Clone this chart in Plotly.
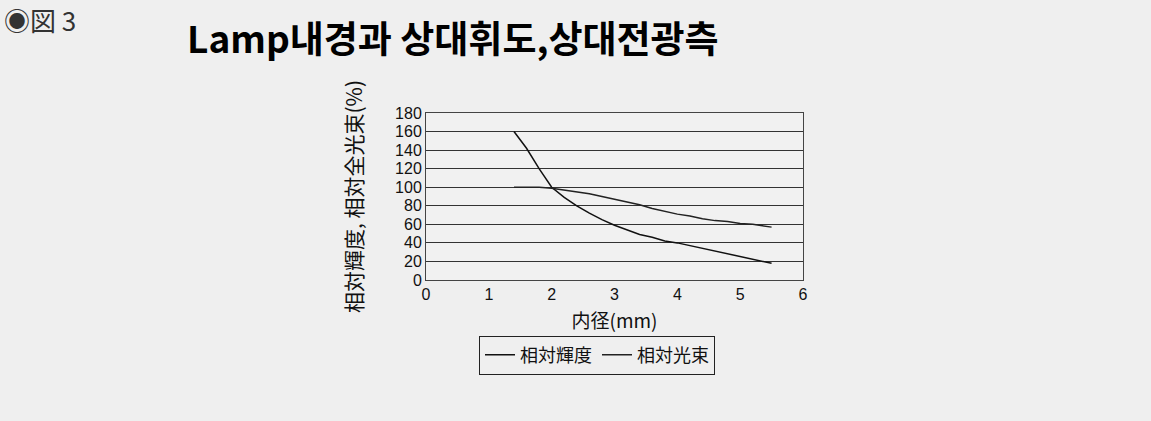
import plotly.graph_objects as go

# Data
diameter = [1.4, 1.6, 1.8, 2.0, 2.2, 2.4, 2.6, 2.8, 3.0, 3.2, 3.4, 3.6, 3.8, 4.0, 4.2, 4.4, 4.6, 4.8, 5.0, 5.2, 5.5]
rel_luminance = [160, 142, 120, 100, 89, 80, 72, 65, 59, 54, 49, 46, 42, 40, 37, 34, 31, 28, 25, 22, 18]
rel_flux = [100, 100, 100, 99, 97, 95, 93, 90, 87, 84, 81, 77, 74, 71, 69, 66, 64, 63, 61, 60, 57]

series_names = ["相対輝度", "相対光束"]
x_ticks = [0, 1, 2, 3, 4, 5, 6]
y_ticks = [0, 20, 40, 60, 80, 100, 120, 140, 160, 180]

W, H = 1151, 421
L, R, T, B = 426, 348, 113, 141
pw, ph = W - L - R, H - T - B

def px(x):
    return (x - L) / pw

def py(y):
    return (H - B - y) / ph

JP = "Noto Sans CJK JP"

fig = go.Figure()
fig.add_trace(go.Scatter(x=diameter, y=rel_luminance, mode="lines", name=series_names[0],
                         line=dict(color="#111111", width=1.5)))
fig.add_trace(go.Scatter(x=diameter, y=rel_flux, mode="lines", name=series_names[1],
                         line=dict(color="#222222", width=1.5)))

fig.update_layout(
    width=W, height=H,
    margin=dict(l=L, r=R, t=T, b=B),
    paper_bgcolor="#efefef",
    plot_bgcolor="#f1f1f1",
    font=dict(family=JP, color="#111111"),
    showlegend=True,
    legend=dict(orientation="h", x=px(597), y=py(355), xanchor="center", yanchor="middle",
                bordercolor="#222222", borderwidth=1, bgcolor="rgba(0,0,0,0)",
                font=dict(size=18, family=JP), itemwidth=30, tracegroupgap=0),
    xaxis=dict(range=[0, 6], tickvals=x_ticks, ticks="", showgrid=False, zeroline=False,
               showline=True, linecolor="#444444", linewidth=1, mirror=True,
               tickfont=dict(size=16, family="Liberation Sans"),
               title=dict(text="内径(mm)", font=dict(size=19, family=JP), standoff=12)),
    yaxis=dict(range=[0, 180], tickvals=y_ticks, ticks="", showgrid=True, gridcolor="#333333",
               gridwidth=1, zeroline=False, showline=True, linecolor="#444444", linewidth=1,
               mirror=True, tickfont=dict(size=16, family="Liberation Sans"),
               title=dict(text="相対輝度, 相対全光束(%)", font=dict(size=21, family=JP), standoff=26)),
)

fig.add_annotation(text="◉図 3", xref="paper", yref="paper", x=px(2), y=py(20),
                   xanchor="left", yanchor="middle", showarrow=False,
                   font=dict(size=26, family=JP, color="#333333"))
fig.add_annotation(text="<b>Lamp내경과 상대휘도,상대전광측</b>", xref="paper", yref="paper",
                   x=px(185), y=py(37), xanchor="left", yanchor="middle", showarrow=False,
                   font=dict(size=37, family="Noto Sans CJK KR", color="#000000"))

fig.write_html("out.html", config={"displayModeBar": False},
               post_script="document.body.style.margin='0';")
